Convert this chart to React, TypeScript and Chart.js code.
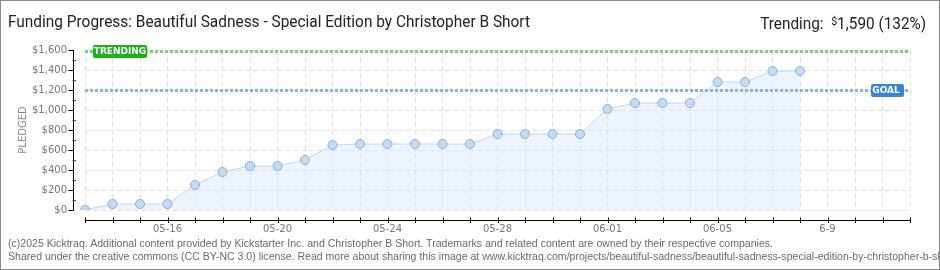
import React, { useEffect, useLayoutEffect, useRef } from "react";
import { Chart, registerables } from "chart.js";

Chart.register(...registerables);

// ---- data ----
const days = [
  "05-13", "05-14", "05-15", "05-16", "05-17", "05-18", "05-19", "05-20", "05-21", "05-22",
  "05-23", "05-24", "05-25", "05-26", "05-27", "05-28", "05-29", "05-30", "05-31",
  "06-01", "06-02", "06-03", "06-04", "06-05", "06-06", "06-07", "06-08", "06-09",
  "06-10", "06-11", "06-12",
];
const pledged = [
  0, 60, 60, 60, 250, 380, 440, 440, 500, 650,
  660, 660, 660, 660, 660, 760, 760, 760, 760,
  1010, 1070, 1070, 1070, 1280, 1280, 1390, 1390,
];
const tickDays = ["05-16", "05-20", "05-24", "05-28", "06-01", "06-05", "06-09"];
const tickTexts = ["05-16", "05-20", "05-24", "05-28", "06-01", "06-05", "6-9"];
const yMax = 1600;
const yStep = 200;
const goal = 1200;
const trending = 1590;

const titleText = "Funding Progress: Beautiful Sadness - Special Edition by Christopher B Short";
const footer1 =
  "(c)2025 Kicktraq. Additional content provided by Kickstarter Inc. and Christopher B Short. Trademarks and related content are owned by their respective companies.";
const footer2 =
  "Shared under the creative commons (CC BY-NC 3.0) license. Read more about sharing this image at www.kicktraq.com/projects/beautiful-sadness/beautiful-sadness-special-edition-by-christopher-b-short/";

const overlayPlugin = {
  id: "ktOverlay",
  afterDatasetsDraw(chart: any) {
    const { ctx, chartArea: a, scales } = chart;
    const y = scales.y;
    ctx.save();
    const refLine = (value: number, dot: string, box: string, text: string, bx: number, bw: number, tx: number) => {
      const yy = Math.round(y.getPixelForValue(value)) + 0.5;
      ctx.strokeStyle = dot;
      ctx.lineWidth = 3;
      ctx.setLineDash([3, 2]);
      ctx.beginPath();
      ctx.moveTo(a.left, yy);
      ctx.lineTo(a.right, yy);
      ctx.stroke();
      ctx.setLineDash([]);
      ctx.fillStyle = box;
      ctx.beginPath();
      (ctx as any).roundRect(bx, yy - 6.5, bw, 13, 2);
      ctx.fill();
      ctx.fillStyle = "#ffffff";
      ctx.font = "bold 9px 'DejaVu Sans'";
      ctx.textAlign = "center";
      ctx.textBaseline = "middle";
      ctx.fillText(text, tx, yy + 0.5);
    };
    refLine(trending, "#79d279", "#19b319", "TRENDING", a.left + 8, 54, a.left + 35);
    refLine(goal, "#88b4e2", "#3a86d6", "GOAL", a.right - 39, 33, a.right - 24);
    ctx.restore();
  },
  afterDraw(chart: any) {
    const { ctx, chartArea: a, scales } = chart;
    const x = scales.x;
    const y = scales.y;
    ctx.save();
    // y axis
    const ax = a.left - 11.5;
    const yTop = y.getPixelForValue(yMax);
    const yBot = y.getPixelForValue(0);
    ctx.lineWidth = 1;
    ctx.strokeStyle = "#000";
    ctx.beginPath();
    ctx.moveTo(ax, yTop);
    ctx.lineTo(ax, yBot + 0.5);
    ctx.stroke();
    for (let v = 0; v <= yMax; v += yStep) {
      const p = Math.round(y.getPixelForValue(v)) + 0.5;
      ctx.strokeStyle = "#000";
      ctx.beginPath();
      ctx.moveTo(ax - 5, p);
      ctx.lineTo(ax, p);
      ctx.stroke();
      if (v + yStep / 2 < yMax) {
        const q = Math.round(y.getPixelForValue(v + yStep / 2)) + 0.5;
        ctx.strokeStyle = "#e00000";
        ctx.beginPath();
        ctx.moveTo(ax - 1, q);
        ctx.lineTo(ax + 2.5, q);
        ctx.stroke();
      }
    }
    // x axis
    const ay = Math.round(a.bottom) + 10.5;
    ctx.strokeStyle = "#000";
    ctx.beginPath();
    ctx.moveTo(a.left, ay);
    ctx.lineTo(a.right, ay);
    ctx.stroke();
    for (let i = 0; i < days.length; i++) {
      const px = Math.round(x.getPixelForValue(i)) + 0.5;
      ctx.beginPath();
      ctx.moveTo(px, ay - 3);
      ctx.lineTo(px, ay + 2.5);
      ctx.stroke();
    }
    ctx.restore();
  },
};

function FitText({ text, width, style }: { text: React.ReactNode; width: number; style: React.CSSProperties }) {
  const ref = useRef<HTMLSpanElement>(null);
  useLayoutEffect(() => {
    const el = ref.current;
    if (!el) return;
    el.style.transform = "none";
    const w = el.getBoundingClientRect().width;
    if (w > 0) el.style.transform = `scaleX(${width / w})`;
  }, [text, width]);
  return (
    <span ref={ref} style={{ display: "inline-block", whiteSpace: "nowrap", ...style }}>
      {text}
    </span>
  );
}

function Footer() {
  const boxRef = useRef<HTMLDivElement>(null);
  const firstRef = useRef<HTMLSpanElement>(null);
  useLayoutEffect(() => {
    const box = boxRef.current;
    const first = firstRef.current;
    if (!box || !first) return;
    box.style.transform = "none";
    const w = first.getBoundingClientRect().width;
    if (w > 0) box.style.transform = `scaleX(${765 / w})`;
  }, []);
  return (
    <div
      ref={boxRef}
      style={{
        position: "absolute",
        left: 8,
        top: 237,
        lineHeight: "13px",
        fontFamily: "'Liberation Sans', Arial, sans-serif",
        fontSize: 10,
        color: "#6a6a6a",
        whiteSpace: "nowrap",
        transformOrigin: "left top",
      }}
    >
      <div>
        <span ref={firstRef}>{footer1}</span>
      </div>
      <div>{footer2}</div>
    </div>
  );
}

export default function App() {
  const canvasRef = useRef<HTMLCanvasElement>(null);

  useEffect(() => {
    document.body.style.margin = "0";
    const canvas = canvasRef.current!;
    const chart = new Chart(canvas, {
      type: "line",
      data: {
        labels: days,
        datasets: [
          {
            data: pledged,
            borderColor: "#bcd6f3",
            borderWidth: 1,
            backgroundColor: "rgba(206,224,248,0.35)",
            fill: "origin",
            tension: 0,
            pointRadius: 4.5,
            pointBackgroundColor: "#c3dbf7",
            pointBorderColor: "#8eaed3",
            pointBorderWidth: 1,
          },
        ],
      },
      options: {
        animation: false,
        responsive: false,
        devicePixelRatio: 1,
        layout: { padding: { top: 50, right: 30, left: 0, bottom: 0 } },
        plugins: { legend: { display: false }, tooltip: { enabled: false }, title: { display: false } },
        scales: {
          x: {
            type: "category",
            offset: false,
            grid: { color: "#e2e2e2", drawTicks: false, lineWidth: 1 },
            border: { display: false, dash: [5, 3] },
            ticks: {
              autoSkip: false,
              maxRotation: 0,
              padding: 13,
              color: "#777",
              font: { family: "'DejaVu Sans'", size: 10 },
              callback: (_v: any, i: number) => {
                const k = tickDays.indexOf(days[i]);
                return k >= 0 ? tickTexts[k] : "";
              },
            },
            afterFit: (s: any) => {
              s.height = 60;
            },
          },
          y: {
            min: 0,
            max: yMax,
            grid: { color: "#e2e2e2", drawTicks: false, lineWidth: 1 },
            border: { display: false, dash: [5, 3] },
            ticks: {
              stepSize: yStep,
              padding: 18,
              color: "#777",
              font: { family: "'DejaVu Sans'", size: 10 },
              callback: (v: any) => "$" + Number(v).toLocaleString("en-US"),
            },
            title: {
              display: true,
              text: "PLEDGED",
              color: "#888",
              font: { family: "'DejaVu Sans'", size: 10 },
              padding: { top: 17, bottom: 0 },
            },
            afterFit: (s: any) => {
              s.width = 85;
            },
          },
        },
      },
      plugins: [overlayPlugin],
    } as any);
    return () => chart.destroy();
  }, []);

  return (
    <div style={{ position: "relative", width: 940, height: 270, background: "#fff", overflow: "hidden" }}>
      <canvas ref={canvasRef} width={940} height={270} style={{ position: "absolute", left: 0, top: 0, width: 940, height: 270 }} />
      <div style={{ position: "absolute", left: 8, top: 13, lineHeight: "18px" }}>
        <FitText
          text={titleText}
          width={522}
          style={{ fontFamily: "Roboto, 'DejaVu Sans', sans-serif", fontSize: 16, color: "#222", transformOrigin: "left center" }}
        />
      </div>
      <div style={{ position: "absolute", right: 14, top: 13, lineHeight: "18px" }}>
        <FitText
          text={
            <>
              Trending:&nbsp;&nbsp;<span style={{ fontSize: 11, verticalAlign: "4px" }}>$</span>1,590 (132%)
            </>
          }
          width={166}
          style={{ fontFamily: "Roboto, 'DejaVu Sans', sans-serif", fontSize: 16, color: "#222", transformOrigin: "right center" }}
        />
      </div>
      <Footer />
      <div style={{ position: "absolute", left: 0, top: 0, width: 940, height: 270, border: "1px solid #8a8a8a", boxSizing: "border-box", pointerEvents: "none" }} />
    </div>
  );
}
